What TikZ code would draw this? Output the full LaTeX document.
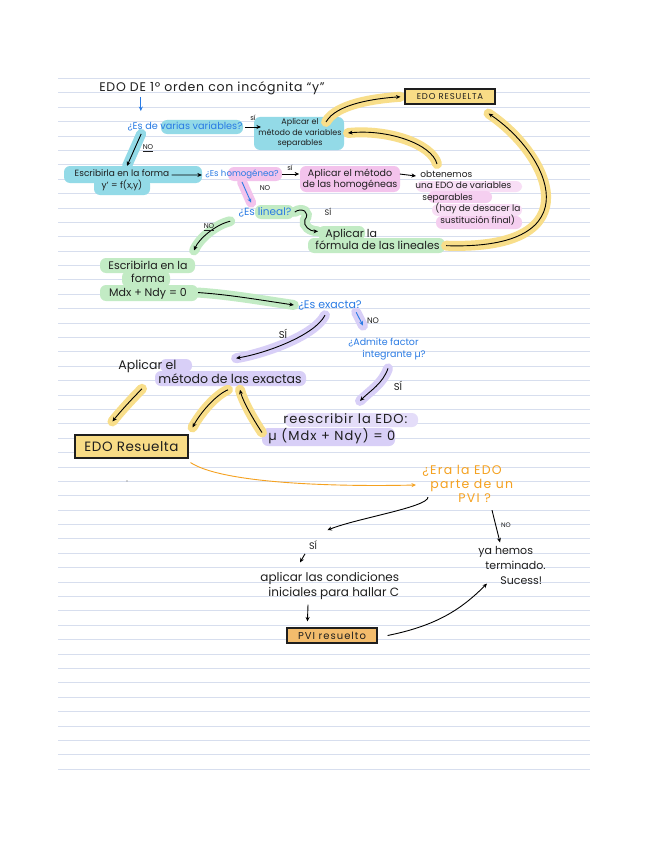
\documentclass[tikz,border=0pt]{standalone}
\usepackage{fontspec}
\setmainfont{Poppins}
\usetikzlibrary{arrows.meta,calc}

\definecolor{paperln}{HTML}{D7DEEE}
\definecolor{ink}{HTML}{1E1E1E}
\definecolor{blueink}{HTML}{2A7BE4}
\definecolor{orangeink}{HTML}{F5A11F}
\definecolor{hlcyan}{HTML}{93DAE7}
\definecolor{hlpink}{HTML}{F3C3EC}
\definecolor{hlgreen}{HTML}{C2EBC4}
\definecolor{hllav}{HTML}{D8CFF7}
\definecolor{hlyel}{HTML}{F8DE8A}
\definecolor{boxyel}{HTML}{F8DC86}
\definecolor{boxorg}{HTML}{F3BC6C}

\newcommand{\hw}[2]{\fontsize{#1}{#2}\selectfont}
\newcommand{\wide}[1]{\addfontfeature{LetterSpace=#1}}

\pgfdeclarelayer{paper}
\pgfdeclarelayer{marker}
\pgfsetlayers{paper,marker,main}

\tikzset{
  hl/.style={preaction={draw=#1, line width=10pt, line cap=round, -}},
  blob/.style={fill=#1, rounded corners=6pt},
  okbox/.style={draw=ink, line width=1.1pt, inner sep=0pt},
  bluetip/.style={blueink, -{Stealth[length=4.5pt,width=4pt]}}
}

\begin{document}
\begin{tikzpicture}[x=1pt, y=-1pt, >={Stealth[length=4.5pt,width=4pt]},
  every node/.style={inner sep=0pt, align=center, text=ink},
  every path/.style={line width=0.9pt}]

  \useasboundingbox (0,0) rectangle (648,848);

  % ruled paper
  \begin{pgfonlayer}{paper}
    \fill[white] (0,0) rectangle (648,848);
    \foreach \k in {0,...,48}
      \draw[paperln, line width=1pt] (58,{78.5+14.39*\k}) -- (590,{78.5+14.39*\k});
  \end{pgfonlayer}

  % texts
  \node[font=\hw{12.5}{14}\wide{6}] (title) at (212,88) {EDO DE 1º orden con incógnita “y”};
  \node[text=blueink, font=\hw{9.7}{11}] (varq) at (185,127) {¿Es de varias variables?};
  \node[font=\hw{7}{8}] (varsi) at (253,118) {sí};
  \node[font=\hw{8}{10.5}] (varsep) at (300,133) {Aplicar el\\método de variables\\separables};
  \node[okbox, fill=boxyel, minimum width=90, minimum height=15, font=\hw{8.5}{9}\wide{10}] (topok) at (450,96.5) {EDO RESUELTA};
  \node[font=\hw{7}{8}] (varno) at (148,148) {\underline{NO}};

  \node[font=\hw{9}{12}] (formy) at (122,180) {Escribirla en la forma\\y' = f(x,y)};
  \node[text=blueink, font=\hw{8.6}{10}] (homq) at (242,174) {¿Es homogénea?};
  \node[font=\hw{7}{8}] (homsi) at (290,168) {sí};
  \node[font=\hw{9.5}{11}] (homap) at (350,180) {Aplicar el método\\de las homogéneas};
  \node[font=\hw{9}{11.5}, align=left, anchor=north west] (sepvar) at (415,170)
    {\hspace*{5pt}obtenemos\\una EDO de variables\\\hspace*{7pt}separables\\\hspace*{20pt}(hay de desacer la\\\hspace*{25pt}sustitución final)};
  \node[font=\hw{7}{8}] (homno) at (265,188) {NO};

  \node[text=blueink, font=\hw{10.5}{10}] (linq) at (265,212) {¿Es lineal?};
  \node[font=\hw{8}{9}] (linsi) at (328,212) {SÍ};
  \node[font=\hw{11}{12}, align=left, anchor=west] (linap) at (315,239) {\hspace*{10pt}Aplicar la\\fórmula de las lineales};
  \node[font=\hw{7}{8}] (linno) at (209,227) {\underline{NO}};

  \node[font=\hw{11}{13.5}] (formmn) at (148,280) {Escribirla en la\\forma\\Mdx + Ndy = 0};
  \node[text=blueink, font=\hw{11}{10}] (exq) at (330,305) {¿Es exacta?};
  \node[font=\hw{10}{10}] (exsi) at (283,334) {SÍ};
  \node[font=\hw{8}{8}] (exno) at (373,321) {NO};
  \node[text=blueink, font=\hw{9.5}{12}, align=left, anchor=west] (facq) at (348,349) {¿Admite factor\\\hspace*{14pt}integrante µ?};
  \node[font=\hw{12.5}{13}, align=left, anchor=west] (exap) at (118,371.5) {Aplicar el\\\hspace*{40pt}método de las exactas};
  \node[font=\hw{10}{10}] (facsi) at (398,386) {SÍ};
  \node[font=\hw{13}{17}\wide{8}, align=left, anchor=west] (rewr) at (268,428.5) {\hspace*{15pt}reescribir la EDO:\\µ (Mdx + Ndy) = 0};
  \node[okbox, fill=boxyel, minimum width=113, minimum height=23, font=\hw{13.5}{13}\wide{4}] (midok) at (131.5,446.5) {EDO Resuelta};
  \fill[gray!70] (127,481) circle (0.9);

  \node[text=orangeink, font=\hw{12.5}{14}\wide{10}, align=left, anchor=west] (pviq) at (422,484) {¿Era la EDO\\\hspace*{8pt}parte de un\\\hspace*{36pt}PVI ?};
  \node[font=\hw{9.5}{10}] (pvisi) at (313,545) {SÍ};
  \node[font=\hw{12}{15}, align=left, anchor=west] (cond) at (260,585.5) {aplicar las condiciones\\\hspace*{8pt}iniciales para hallar C};
  \node[okbox, fill=boxorg, minimum width=90, minimum height=15, font=\hw{10}{10}\wide{10}] (pviok) at (332,635.5) {PVI resuelto};
  \node[font=\hw{6.5}{8}] (pvino) at (506,525) {NO};
  \node[font=\hw{11}{15}, align=left, anchor=west] (done) at (478,565) {ya hemos\\\hspace*{7pt}terminado.\\\hspace*{22pt}Sucess!};

  \begin{pgfonlayer}{marker}
    % highlighter marks behind the texts
    \fill[blob=hlcyan] (161,120) rectangle (243,134);
    \fill[blob=hlcyan] (254,117) rectangle (344,150);
    \fill[blob=hlcyan] (64,166) rectangle (202,183);
    \fill[blob=hlcyan] (94,178) rectangle (150,195);
    \fill[blob=hlpink] (228,167) rectangle (282,181);
    \fill[blob=hlpink] (300,166) rectangle (400,192);
    \fill[blob=hlpink!55] (416,181) rectangle (522,192);
    \fill[blob=hlpink!80] (428,191) rectangle (492,203);
    \fill[blob=hlpink!55] (432,204) rectangle (522,216);
    \fill[blob=hlpink!80] (436,216) rectangle (522,229);
    \fill[blob=hlgreen] (255,205) rectangle (294,219);
    \fill[blob=hlgreen] (318,226) rectangle (365,240);
    \fill[blob=hlgreen] (308,238) rectangle (445,253);
    \fill[blob=hlgreen] (100,258) rectangle (195,273);
    \fill[blob=hlgreen] (122,271) rectangle (170,287);
    \fill[blob=hlgreen] (100,285) rectangle (198,301);
    \fill[blob=hllav] (160,359) rectangle (192,372);
    \fill[blob=hllav] (155,371) rectangle (306,386);
    \fill[blob=hllav!70] (285,413) rectangle (418,427);
    \fill[blob=hllav] (262,428) rectangle (395,446);

    % connectors
    \draw[blueink, ->] ($(title.south west)+(42,2)$) -- +(0,14);
    \draw[->] ($(varq.east)+(2,0)$) -- ($(varq.east -| varsep.west)+(3,0)$);
    \draw[->, hl=hlyel, shorten >=4pt] ($(varsep.north east)+(-16,4)$) .. controls +(10,-18) and +(-30,2) .. (topok.west);
    \draw[->, hl=hlyel] ($(sepvar.north west)+(22,-6)$) .. controls +(-5,-20) and +(40,-4) .. ($(varsep.east)+(6,0)$);
    \draw[->, hl=hlyel] ($(linap.south east)+(6,-4)$) .. controls +(150,5) and +(60,40) .. ($(topok.south east)+(-7,9)$);
    \draw[->, hl=hlcyan] ($(varq.south west)+(14,2)$) -- ($(formy.north)+(5,-3)$);
    \draw[->] ($(formy.north east)+(2,6)$) -- ($(homq.west)+(-3,1)$);
    \draw[->] ($(homq.east)+(3,0)$) -- ($(homq.east -| homap.west)+(-3,0)$);
    \draw[->] ($(homap.north east)+(2,5)$) -- ($(sepvar.north west)+(1,6)$);
    \draw[bluetip, hl=hlpink] ($(homq.south)+(0,3)$) -- ($(linq.north west)+(13,-4)$);
    \draw[->, hl=hlgreen] ($(linq.east)+(3,0)$) .. controls +(7,-5) and +(6,-8) .. +(10,8)
      .. controls +(-2,6) and +(-8,0) .. ($(linap.north west)+(3,3)$);
    \draw[->, hl=hlgreen] ($(linq.south west)+(-8,4)$) .. controls +(-14,3) and +(5,-12) .. ($(formmn.north east)+(6,-10)$);
    \draw[->, hl=hlgreen] ($(formmn.south east)+(10,-7)$) .. controls +(30,2) and +(-40,-6) .. ($(exq.west)+(-4,0)$);
    \draw[->, hl=hllav] ($(exq.south)+(-5,5)$) .. controls +(-10,20) and +(30,-5) .. ($(exap.north east)+(-66,-1)$);
    \draw[bluetip, hl=hllav] ($(exq.south east)+(-6,2)$) -- ($(facq.north west)+(15,-12)$);
    \draw[->, hl=hllav] ($(facq.south west)+(40,8)$) .. controls +(-5,15) and +(10,-10) .. ($(rewr.north west)+(92,-12)$);
    \draw[->, hl=hlyel] ($(rewr.west)+(-6,4)$) .. controls +(-8,-12) and +(3,12) .. ($(exap.south west)+(122,6)$);
    \draw[->, hl=hlyel] ($(exap.south west)+(110,6)$) .. controls +(-12,5) and +(8,-15) .. ($(midok.north east)+(4,-7)$);
    \draw[->, hl=hlyel] ($(exap.south west)+(24,5)$) .. controls +(-10,10) and +(8,-10) .. ($(midok.north west)+(38,-13)$);
    \draw[->, orangeink] ($(midok.south east)+(2,4)$) .. controls +(30,20) and +(-90,2) .. ($(pviq.west)+(-6,1)$);
    \draw[->] ($(pviq.south west)+(6,-6)$) .. controls +(0,10) and +(30,-12) .. ($(pvisi.north east)+(10,-10)$);
    \draw[->] ($(pvisi.south)+(-8,4)$) -- ($(cond.north west)+(40,-9)$);
    \draw[->] ($(cond.south west)+(48,5)$) -- ($(pviok.north west)+(21,-6)$);
    \draw[->] ($(pviok.east)+(10,0)$) .. controls +(50,-10) and +(-25,25) .. ($(done.south west)+(9,-1)$);
    \draw[->] ($(pviq.south west)+(70,7)$) -- ($(done.north west)+(22,-3)$);
  \end{pgfonlayer}

\end{tikzpicture}
\end{document}
